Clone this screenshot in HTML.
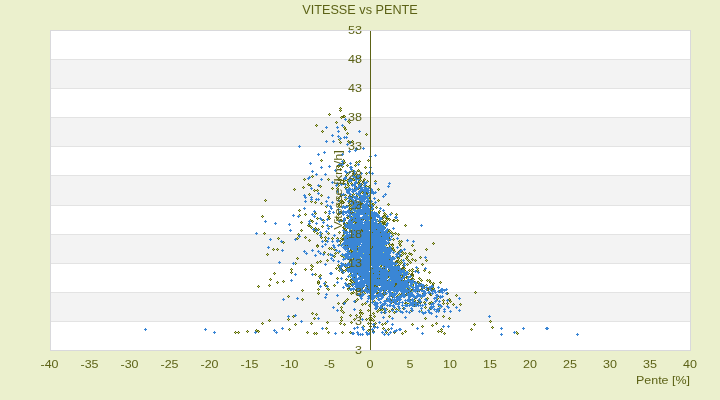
<!DOCTYPE html>
<html><head><meta charset="utf-8"><title>VITESSE vs PENTE</title>
<style>html,body{margin:0;padding:0;background:#ebf0cd;}body{width:720px;height:400px;overflow:hidden;font-family:"Liberation Sans",sans-serif;}</style>
</head><body>
<svg width="720" height="400" viewBox="0 0 720 400" style="display:block;font-family:'Liberation Sans',sans-serif">
<rect width="720" height="400" fill="#ebf0cd"/>
<rect x="50" y="30" width="641" height="321" fill="#d9d9dc" shape-rendering="crispEdges"/>
<rect x="51" y="31" width="639" height="319" fill="#fff" shape-rendering="crispEdges"/>
<rect x="51" y="59" width="639" height="29" fill="#f3f3f3" shape-rendering="crispEdges"/>
<rect x="51" y="117" width="639" height="29" fill="#f3f3f3" shape-rendering="crispEdges"/>
<rect x="51" y="175" width="639" height="30" fill="#f3f3f3" shape-rendering="crispEdges"/>
<rect x="51" y="234" width="639" height="29" fill="#f3f3f3" shape-rendering="crispEdges"/>
<rect x="51" y="292" width="639" height="29" fill="#f3f3f3" shape-rendering="crispEdges"/>
<rect x="51" y="59" width="639" height="1" fill="#e3e3e3" shape-rendering="crispEdges"/>
<rect x="51" y="88" width="639" height="1" fill="#e3e3e3" shape-rendering="crispEdges"/>
<rect x="51" y="117" width="639" height="1" fill="#e3e3e3" shape-rendering="crispEdges"/>
<rect x="51" y="146" width="639" height="1" fill="#e3e3e3" shape-rendering="crispEdges"/>
<rect x="51" y="175" width="639" height="1" fill="#e3e3e3" shape-rendering="crispEdges"/>
<rect x="51" y="205" width="639" height="1" fill="#e3e3e3" shape-rendering="crispEdges"/>
<rect x="51" y="234" width="639" height="1" fill="#e3e3e3" shape-rendering="crispEdges"/>
<rect x="51" y="263" width="639" height="1" fill="#e3e3e3" shape-rendering="crispEdges"/>
<rect x="51" y="292" width="639" height="1" fill="#e3e3e3" shape-rendering="crispEdges"/>
<rect x="51" y="321" width="639" height="1" fill="#e3e3e3" shape-rendering="crispEdges"/>
<path d="M340 107h1M339 108h1M341 108h1M340 109h1M339 110h1M341 110h1M340 111h1M329 113h1M328 114h1M330 114h1M329 115h1M343 115h2M341 116h3M345 116h1M340 117h1M342 117h3M341 118h1M348 120h1M336 121h1M347 121h1M349 121h1M335 122h1M337 122h1M348 122h1M350 122h1M336 123h1M349 123h1M316 124h1M315 125h1M317 125h1M316 126h1M344 126h1M343 127h1M345 127h1M344 128h2M344 129h1M346 129h1M322 130h1M345 130h1M321 131h1M323 131h1M322 132h1M347 132h1M346 133h1M348 133h1M366 133h1M347 134h1M365 134h1M367 134h1M366 135h1M338 139h1M339 140h1M348 140h1M352 140h1M340 141h1M347 141h1M349 141h1M351 141h1M353 141h1M339 142h1M341 142h1M348 142h1M352 142h1M340 143h1M321 159h1M343 159h1M368 159h1M320 160h1M322 160h1M344 160h1M359 160h1M367 160h1M369 160h1M321 161h1M344 161h1M356 161h1M358 161h1M360 161h1M368 161h1M343 162h1M345 162h1M355 162h1M357 162h1M359 162h1M341 163h1M343 163h2M356 163h1M347 164h1M355 164h1M337 165h2M346 165h1M348 165h1M354 165h1M356 165h1M337 166h1M339 166h1M343 166h1M347 166h1M355 166h1M365 166h1M338 167h1M342 167h1M364 167h1M366 167h1M340 168h1M365 168h1M339 169h1M341 169h1M358 169h1M340 170h1M353 170h1M357 170h1M359 170h1M352 171h1M358 171h1M353 172h1M366 172h1M347 173h1M352 173h1M365 173h1M367 173h1M346 174h1M348 174h1M353 174h1M355 174h1M366 174h1M312 175h1M345 175h1M347 175h1M352 175h1M354 175h1M311 176h1M313 176h1M346 176h1M360 176h1M312 177h1M359 177h1M361 177h1M304 178h1M328 178h1M338 178h1M353 178h1M360 178h1M364 178h1M303 179h1M305 179h1M327 179h1M329 179h1M337 179h1M339 179h2M343 179h1M347 179h2M352 179h1M354 179h1M360 179h1M363 179h1M365 179h1M304 180h1M328 180h1M338 180h2M341 180h3M345 180h2M353 180h2M359 180h1M361 180h1M363 180h2M367 180h1M375 180h1M340 181h1M343 181h2M347 181h1M358 181h1M360 181h1M362 181h2M368 181h1M374 181h1M376 181h1M340 182h1M343 182h1M347 182h1M351 182h1M358 182h2M362 182h1M308 183h1M339 183h1M342 183h1M344 183h1M347 183h2M350 183h1M352 183h1M357 183h1M359 183h1M361 183h1M363 183h1M307 184h1M309 184h2M338 184h1M343 184h1M348 184h1M351 184h1M358 184h1M362 184h1M308 185h2M311 185h1M320 185h1M339 185h1M347 185h1M349 185h1M361 185h1M366 185h1M369 185h1M303 186h1M310 186h1M319 186h1M321 186h1M338 186h1M345 186h1M348 186h1M356 186h1M360 186h1M365 186h1M367 186h2M370 186h1M302 187h1M304 187h1M320 187h1M332 187h1M337 187h1M344 187h1M346 187h2M369 187h1M294 188h1M303 188h1M331 188h1M333 188h1M336 188h1M338 188h1M345 188h1M354 188h1M359 188h1M378 188h1M293 189h1M295 189h1M314 189h1M317 189h1M332 189h1M337 189h1M358 189h1M377 189h1M379 189h1M294 190h1M313 190h1M315 190h2M318 190h1M378 190h1M314 191h1M317 191h1M362 191h1M361 192h1M363 192h1M366 192h1M309 193h1M353 193h1M360 193h1M362 193h1M366 193h2M370 193h1M308 194h1M310 194h1M321 194h1M345 194h1M352 194h1M354 194h1M367 194h1M309 195h1M320 195h1M322 195h1M340 195h1M342 195h1M344 195h1M346 195h1M349 195h1M352 195h1M356 195h1M321 196h1M341 196h1M348 196h1M350 196h2M357 196h1M338 197h1M352 197h1M359 197h1M369 197h1M337 198h1M339 198h1M347 198h1M369 198h2M265 199h1M341 199h1M344 199h1M346 199h1M350 199h1M370 199h1M378 199h1M264 200h1M266 200h1M340 200h1M342 200h1M345 200h1M349 200h1M351 200h1M355 200h1M370 200h1M377 200h1M379 200h1M265 201h1M310 201h1M312 201h1M315 201h1M339 201h1M341 201h3M350 201h1M369 201h1M378 201h1M311 202h1M314 202h1M316 202h1M321 202h1M340 202h2M343 202h2M349 202h1M358 202h1M315 203h1M320 203h1M322 203h1M338 203h1M342 203h2M348 203h1M361 203h2M372 203h2M388 203h1M321 204h1M337 204h1M339 204h1M349 204h2M358 204h1M360 204h2M372 204h1M374 204h1M387 204h1M389 204h1M338 205h2M346 205h1M348 205h2M351 205h1M357 205h1M368 205h1M373 205h1M388 205h1M325 206h1M338 206h1M340 206h1M350 206h1M360 206h1M369 206h2M376 206h1M326 207h1M339 207h1M349 207h1M371 207h1M375 207h1M377 207h1M350 208h1M355 208h1M376 208h1M299 209h1M349 209h1M351 209h1M373 209h1M298 210h1M300 210h1M350 210h1M372 210h1M379 210h1M299 211h1M325 211h1M340 211h1M378 211h1M380 211h1M315 212h1M324 212h1M326 212h1M341 212h1M350 212h1M352 212h2M378 212h2M384 212h1M391 212h1M305 213h1M314 213h1M316 213h1M325 213h1M338 213h1M340 213h1M351 213h1M365 213h1M379 213h1M383 213h1M385 213h1M392 213h1M396 213h1M299 214h1M304 214h1M306 214h1M315 214h1M337 214h1M339 214h1M384 214h1M386 214h1M395 214h1M397 214h1M262 215h1M300 215h1M305 215h1M328 215h1M338 215h1M383 215h3M396 215h1M261 216h1M263 216h1M327 216h1M329 216h1M348 216h1M351 216h1M382 216h2M385 216h1M262 217h1M317 217h1M328 217h2M337 217h1M346 217h2M370 217h2M382 217h1M384 217h1M386 217h1M316 218h1M318 218h1M328 218h1M330 218h1M336 218h1M338 218h1M347 218h2M355 218h1M371 218h1M383 218h1M385 218h5M310 219h1M317 219h1M323 219h1M329 219h1M337 219h1M340 219h2M352 219h1M361 219h1M363 219h1M377 219h1M382 219h1M386 219h1M388 219h1M390 219h1M393 219h2M397 219h1M311 220h2M322 220h1M324 220h1M340 220h1M342 220h1M345 220h1M351 220h1M365 220h1M383 220h1M385 220h1M387 220h1M389 220h1M392 220h2M395 220h2M398 220h1M301 221h1M311 221h1M313 221h1M341 221h1M354 221h1M378 221h1M380 221h3M384 221h1M386 221h1M393 221h2M397 221h1M300 222h1M302 222h1M312 222h1M344 222h1M346 222h1M353 222h1M355 222h2M379 222h1M382 222h4M301 223h1M343 223h2M347 223h1M355 223h1M378 223h1M382 223h3M308 224h1M343 224h1M383 224h3M405 224h1M307 225h1M309 225h2M322 225h1M344 225h1M404 225h1M406 225h1M308 226h2M311 226h1M321 226h1M323 226h1M329 226h1M343 226h1M405 226h1M310 227h1M312 227h1M315 227h1M322 227h1M342 227h2M385 227h1M311 228h1M314 228h1M316 228h1M318 228h1M343 228h3M347 228h1M301 229h1M315 229h1M317 229h1M319 229h1M344 229h1M346 229h1M361 229h1M376 229h1M389 229h1M300 230h1M302 230h1M314 230h1M318 230h1M345 230h2M354 230h1M361 230h2M388 230h1M390 230h1M301 231h1M313 231h1M315 231h1M339 231h1M356 231h1M362 231h1M388 231h2M391 231h1M264 232h1M314 232h1M317 232h1M328 232h1M338 232h1M340 232h1M343 232h1M372 232h1M380 232h1M387 232h1M390 232h1M392 232h1M395 232h1M263 233h1M265 233h1M298 233h1M316 233h1M318 233h1M322 233h1M327 233h1M329 233h1M339 233h1M391 233h1M393 233h2M396 233h1M398 233h1M264 234h1M297 234h1M299 234h1M317 234h1M321 234h1M328 234h1M343 234h1M353 234h1M392 234h1M395 234h1M397 234h1M399 234h1M298 235h1M342 235h2M393 235h1M398 235h1M305 236h1M321 236h1M325 236h1M342 236h1M381 236h1M278 237h1M297 237h1M304 237h1M306 237h1M320 237h1M322 237h1M324 237h1M326 237h1M332 237h1M337 237h1M341 237h1M389 237h1M277 238h1M279 238h1M296 238h1M298 238h1M305 238h1M321 238h1M325 238h1M331 238h1M333 238h1M336 238h1M338 238h1M340 238h1M342 238h2M347 238h1M389 238h1M393 238h1M278 239h1M297 239h1M309 239h1M325 239h1M332 239h1M341 239h3M392 239h1M394 239h1M308 240h1M310 240h1M324 240h1M326 240h1M340 240h1M342 240h1M389 240h1M393 240h1M399 240h1M401 240h1M283 241h1M309 241h1M325 241h1M339 241h1M341 241h1M398 241h1M400 241h1M402 241h1M282 242h1M284 242h1M340 242h1M399 242h1M401 242h1M433 242h1M283 243h1M340 243h1M389 243h1M392 243h1M398 243h1M400 243h1M432 243h1M434 243h1M317 244h1M339 244h1M388 244h1M390 244h4M399 244h2M412 244h1M433 244h1M316 245h3M345 245h1M347 245h1M386 245h1M389 245h1M391 245h1M393 245h1M399 245h1M401 245h1M411 245h1M413 245h1M316 246h1M318 246h1M357 246h1M372 246h1M389 246h1M392 246h1M400 246h1M412 246h1M317 247h1M329 247h1M331 247h1M372 247h1M387 247h1M393 247h1M273 248h1M277 248h1M328 248h1M330 248h1M332 248h1M348 248h1M357 248h1M371 248h1M391 248h3M426 248h1M272 249h1M274 249h1M276 249h1M278 249h1M329 249h1M331 249h1M333 249h1M335 249h1M350 249h1M357 249h1M370 249h1M392 249h1M394 249h1M400 249h1M414 249h1M425 249h1M427 249h1M273 250h1M277 250h1M334 250h1M350 250h2M393 250h2M399 250h1M413 250h1M415 250h1M426 250h1M324 251h1M349 251h1M351 251h2M395 251h1M398 251h1M402 251h1M414 251h1M323 252h1M325 252h1M335 252h1M337 252h1M351 252h1M397 252h1M401 252h1M403 252h1M405 252h1M409 252h1M267 253h1M324 253h1M328 253h1M334 253h1M336 253h1M338 253h1M398 253h1M402 253h1M404 253h1M406 253h1M408 253h1M410 253h2M266 254h1M268 254h1M327 254h1M335 254h1M369 254h1M401 254h1M403 254h1M405 254h1M409 254h2M412 254h1M267 255h1M328 255h1M334 255h1M340 255h1M400 255h1M402 255h1M407 255h1M411 255h1M333 256h1M335 256h1M341 256h2M392 256h1M401 256h1M406 256h1M408 256h1M420 256h1M297 257h1M334 257h1M343 257h1M397 257h2M406 257h2M419 257h1M421 257h1M296 258h1M298 258h1M353 258h1M397 258h1M399 258h1M405 258h1M407 258h1M412 258h1M420 258h1M297 259h1M327 259h1M348 259h1M350 259h1M353 259h1M389 259h1M398 259h1M401 259h1M406 259h1M408 259h1M411 259h1M413 259h1M415 259h1M426 259h1M320 260h1M326 260h1M328 260h1M350 260h1M396 260h3M400 260h1M407 260h1M409 260h1M412 260h1M414 260h1M416 260h1M425 260h1M427 260h1M317 261h1M319 261h1M321 261h1M327 261h1M349 261h1M395 261h3M399 261h1M401 261h1M408 261h1M410 261h1M415 261h1M426 261h1M295 262h1M316 262h1M318 262h1M320 262h1M349 262h1M395 262h1M397 262h2M400 262h1M402 262h1M409 262h1M411 262h1M296 263h1M317 263h1M345 263h1M399 263h1M401 263h1M407 263h1M410 263h1M422 263h1M295 264h1M311 264h1M338 264h1M398 264h1M400 264h1M403 264h1M406 264h1M408 264h1M421 264h1M423 264h1M310 265h1M312 265h1M337 265h1M339 265h1M381 265h1M395 265h1M397 265h1M399 265h1M402 265h1M407 265h1M422 265h1M311 266h1M313 266h1M338 266h1M344 266h1M380 266h2M384 266h1M403 266h1M312 267h1M336 267h1M338 267h1M345 267h1M347 267h3M402 267h3M291 268h1M305 268h1M311 268h1M335 268h1M337 268h1M339 268h1M341 268h1M346 268h1M372 268h1M382 268h1M384 268h1M401 268h3M405 268h1M412 268h1M418 268h1M290 269h1M292 269h1M304 269h1M306 269h1M310 269h1M312 269h1M336 269h1M342 269h1M345 269h1M388 269h1M401 269h1M404 269h1M409 269h1M411 269h1M413 269h1M417 269h1M424 269h1M291 270h1M305 270h1M311 270h1M338 270h1M343 270h2M346 270h1M389 270h1M398 270h1M405 270h1M408 270h1M410 270h1M412 270h1M416 270h1M418 270h1M423 270h1M425 270h1M291 271h1M339 271h1M342 271h1M345 271h1M379 271h1M388 271h1M409 271h1M411 271h1M413 271h1M417 271h1M424 271h1M429 271h1M274 272h1M290 272h1M292 272h1M341 272h1M412 272h1M428 272h1M430 272h1M273 273h1M275 273h1M291 273h1M315 273h1M342 273h1M350 273h1M357 273h1M373 273h1M409 273h1M411 273h2M429 273h1M274 274h1M314 274h1M316 274h1M320 274h1M349 274h1M379 274h1M408 274h1M410 274h4M315 275h1M319 275h1M321 275h1M400 275h1M402 275h1M411 275h3M318 276h1M320 276h1M360 276h1M388 276h1M402 276h1M406 276h2M413 276h1M319 277h1M337 277h1M350 277h1M354 277h1M388 277h1M401 277h1M405 277h2M412 277h1M419 277h1M270 278h1M336 278h1M338 278h1M346 278h1M377 278h1M379 278h1M404 278h1M406 278h1M411 278h3M418 278h1M420 278h1M269 279h1M271 279h1M337 279h1M345 279h1M347 279h1M350 279h2M404 279h1M410 279h2M414 279h1M419 279h1M421 279h1M427 279h1M429 279h1M270 280h1M283 280h1M318 280h1M346 280h1M349 280h2M352 280h1M387 280h1M401 280h1M403 280h1M420 280h1M422 280h1M426 280h1M428 280h1M430 280h1M277 281h1M282 281h1M284 281h1M317 281h1M319 281h1M325 281h1M350 281h2M353 281h1M414 281h1M417 281h2M421 281h1M427 281h1M429 281h2M440 281h1M276 282h1M278 282h1M283 282h1M317 282h3M326 282h1M351 282h2M354 282h1M408 282h1M417 282h1M419 282h1M429 282h1M431 282h1M433 282h1M439 282h1M441 282h1M277 283h1M317 283h1M319 283h1M348 283h3M395 283h2M418 283h1M420 283h1M430 283h1M432 283h1M434 283h1M440 283h1M269 284h1M318 284h1M325 284h1M334 284h1M347 284h1M350 284h1M395 284h2M413 284h1M426 284h1M432 284h2M258 285h1M268 285h1M270 285h1M324 285h1M326 285h1M333 285h1M335 285h1M351 285h1M366 285h1M374 285h2M379 285h1M395 285h1M413 285h1M425 285h1M427 285h1M433 285h1M257 286h1M259 286h1M269 286h1M325 286h1M334 286h1M350 286h1M352 286h1M367 286h1M374 286h1M376 286h2M394 286h1M421 286h1M424 286h1M258 287h1M349 287h1M363 287h1M433 287h1M318 288h1M326 288h1M328 288h1M347 288h3M362 288h1M367 288h1M407 288h1M421 288h1M424 288h1M427 288h2M431 288h2M434 288h1M302 289h1M317 289h1M319 289h1M327 289h1M329 289h1M347 289h1M368 289h1M408 289h1M411 289h2M420 289h1M422 289h1M428 289h1M432 289h2M301 290h1M303 290h1M318 290h1M328 290h1M348 290h1M355 290h1M359 290h1M378 290h1M383 290h1M386 290h1M411 290h1M427 290h2M431 290h1M439 290h1M302 291h1M353 291h1M356 291h1M358 291h1M363 291h1M410 291h1M417 291h1M419 291h1M475 291h1M318 292h1M351 292h2M354 292h1M362 292h1M364 292h1M377 292h2M383 292h1M385 292h1M392 292h1M408 292h1M439 292h1M447 292h1M474 292h1M476 292h1M317 293h1M319 293h1M350 293h1M352 293h2M357 293h1M365 293h1M376 293h2M382 293h1M399 293h1M401 293h1M406 293h1M422 293h1M430 293h1M448 293h1M475 293h1M318 294h1M351 294h1M356 294h1M383 294h1M385 294h1M398 294h1M400 294h1M405 294h1M429 294h2M447 294h1M456 294h1M288 295h1M357 295h1M369 295h1M384 295h1M397 295h1M406 295h1M430 295h2M455 295h1M457 295h1M287 296h1M289 296h1M370 296h1M391 296h1M396 296h1M438 296h1M456 296h1M288 297h1M392 297h1M427 297h1M302 298h1M347 298h1M357 298h1M376 298h1M415 298h1M421 298h1M426 298h1M428 298h1M438 298h1M449 298h1M301 299h1M303 299h1M346 299h1M348 299h1M356 299h1M358 299h1M386 299h1M390 299h1M410 299h1M414 299h1M427 299h1M437 299h1M443 299h1M448 299h1M450 299h1M302 300h1M345 300h1M347 300h1M355 300h1M357 300h1M374 300h1M391 300h1M415 300h1M417 300h1M442 300h1M444 300h1M449 300h2M344 301h1M346 301h1M356 301h1M373 301h1M397 301h1M414 301h1M418 301h1M424 301h1M431 301h1M443 301h1M449 301h1M451 301h1M338 302h1M343 302h1M345 302h1M355 302h1M365 302h1M393 302h1M405 302h2M417 302h1M419 302h1M421 302h1M423 302h1M425 302h1M429 302h2M432 302h1M443 302h1M447 302h1M450 302h1M337 303h1M339 303h1M342 303h1M362 303h1M364 303h1M366 303h1M391 303h1M404 303h2M407 303h2M420 303h1M424 303h1M428 303h1M430 303h1M442 303h1M444 303h1M446 303h1M448 303h1M453 303h1M460 303h1M338 304h1M343 304h1M361 304h1M363 304h1M365 304h1M369 304h1M414 304h1M417 304h1M429 304h1M443 304h1M447 304h1M452 304h1M454 304h1M459 304h1M461 304h1M362 305h1M368 305h1M370 305h1M453 305h1M460 305h1M341 306h1M369 306h1M382 306h1M414 306h1M425 306h1M438 306h1M340 307h1M342 307h1M403 307h1M424 307h1M426 307h1M341 308h1M379 308h1M382 308h1M386 308h1M392 308h1M396 308h1M402 308h1M425 308h1M429 308h1M341 309h1M360 309h1M368 309h1M378 309h1M380 309h2M383 309h1M387 309h1M391 309h1M393 309h1M395 309h1M397 309h1M403 309h1M430 309h1M340 310h1M342 310h1M359 310h1M361 310h1M367 310h1M369 310h1M377 310h1M379 310h2M382 310h1M389 310h1M398 310h1M410 310h1M421 310h1M439 310h1M341 311h1M343 311h1M360 311h1M368 311h1M376 311h1M378 311h1M384 311h1M388 311h1M390 311h1M394 311h1M411 311h1M312 312h1M342 312h1M344 312h1M359 312h4M373 312h1M377 312h1M383 312h1M389 312h1M393 312h1M395 312h1M311 313h1M313 313h1M316 313h1M343 313h1M359 313h1M361 313h1M363 313h1M372 313h1M374 313h1M384 313h1M394 313h1M312 314h1M315 314h1M317 314h1M350 314h1M356 314h1M360 314h1M362 314h1M370 314h1M373 314h1M293 315h1M316 315h1M349 315h1M351 315h1M355 315h1M357 315h1M360 315h1M369 315h1M371 315h1M374 315h1M389 315h1M443 315h1M292 316h1M294 316h1M341 316h1M350 316h1M356 316h1M359 316h1M361 316h1M370 316h1M373 316h1M375 316h1M388 316h1M390 316h1M442 316h1M444 316h1M293 317h1M314 317h1M340 317h1M342 317h1M360 317h1M369 317h1M371 317h1M374 317h1M389 317h1M425 317h1M443 317h1M449 317h1M288 318h1M313 318h1M315 318h1M341 318h1M354 318h1M366 318h1M368 318h1M370 318h1M372 318h1M424 318h1M426 318h1M448 318h1M450 318h1M269 319h1M287 319h1M289 319h1M314 319h1M341 319h1M353 319h1M355 319h1M365 319h1M367 319h1M369 319h3M373 319h1M425 319h1M449 319h1M268 320h1M270 320h1M288 320h1M340 320h1M342 320h1M354 320h1M366 320h1M369 320h1M371 320h2M374 320h1M490 320h1M269 321h1M327 321h1M341 321h1M351 321h1M370 321h1M373 321h1M489 321h1M491 321h1M262 322h1M311 322h1M326 322h1M328 322h1M340 322h1M350 322h1M352 322h1M368 322h1M370 322h1M375 322h1M385 322h1M436 322h1M490 322h1M261 323h1M263 323h1M295 323h1M310 323h1M312 323h1M327 323h1M339 323h1M341 323h1M344 323h1M351 323h1M367 323h1M369 323h1M371 323h1M374 323h1M376 323h1M382 323h1M384 323h1M386 323h1M412 323h1M435 323h1M437 323h1M474 323h1M262 324h1M294 324h1M296 324h1M311 324h1M340 324h1M343 324h1M345 324h1M368 324h1M370 324h1M375 324h1M381 324h1M383 324h1M385 324h1M411 324h1M413 324h1M432 324h1M436 324h1M473 324h1M475 324h1M295 325h1M344 325h1M363 325h1M370 325h1M374 325h1M382 325h1M412 325h1M422 325h1M431 325h1M433 325h1M474 325h1M364 326h1M369 326h1M371 326h1M373 326h1M375 326h1M421 326h1M423 326h1M432 326h1M492 326h1M326 327h1M370 327h1M383 327h1M422 327h1M491 327h1M493 327h1M289 328h1M325 328h1M327 328h1M370 328h1M382 328h1M384 328h1M388 328h1M441 328h1M471 328h1M492 328h1M256 329h1M288 329h1M290 329h1M326 329h1M368 329h2M383 329h1M387 329h1M389 329h1M440 329h1M442 329h1M470 329h1M472 329h1M247 330h1M255 330h1M257 330h2M289 330h1M367 330h1M369 330h2M373 330h1M388 330h1M405 330h1M438 330h1M441 330h1M471 330h1M235 331h1M238 331h1M246 331h1M248 331h1M256 331h2M259 331h1M307 331h1M328 331h1M342 331h1M350 331h1M368 331h1M372 331h1M374 331h1M386 331h1M404 331h1M406 331h1M437 331h1M439 331h2M442 331h1M516 331h1M234 332h1M236 332h2M239 332h1M247 332h1M258 332h1M306 332h1M308 332h1M314 332h1M316 332h1M327 332h1M329 332h1M341 332h1M343 332h1M349 332h1M351 332h1M385 332h1M387 332h1M393 332h1M395 332h1M402 332h1M405 332h1M438 332h1M441 332h1M444 332h1M517 332h1M235 333h1M238 333h1M307 333h1M313 333h1M315 333h1M317 333h1M328 333h1M342 333h1M350 333h1M386 333h1M394 333h1M401 333h1M403 333h1M443 333h1M445 333h1M516 333h1M518 333h1M314 334h1M316 334h1M402 334h1M444 334h1M517 334h1" stroke="#5c6410" stroke-width="1" fill="none" transform="translate(0,0.5)" shape-rendering="crispEdges"/>
<path d="M340 108h1M340 110h1M329 114h1M344 116h1M341 117h1M348 121h1M336 122h1M349 122h1M316 125h1M344 127h1M345 129h1M322 131h1M347 133h1M366 134h1M339 139h1M348 141h1M352 141h1M340 142h1M321 160h1M343 160h1M368 160h1M359 161h1M344 162h1M356 162h1M347 165h1M355 165h1M338 166h1M342 166h1M365 167h1M340 169h1M352 170h1M358 170h1M348 173h1M366 173h1M346 175h1M355 175h1M312 176h1M360 177h1M304 179h1M328 179h1M338 179h1M353 179h1M364 179h1M340 180h1M344 180h1M347 180h1M355 180h1M360 180h1M359 181h1M367 181h1M375 181h1M348 182h1M340 183h1M343 183h1M351 183h1M358 183h1M308 184h1M347 184h1M310 185h1M338 185h1M348 185h1M320 186h1M366 186h1M369 186h1M303 187h1M345 187h1M348 187h1M332 188h1M337 188h1M294 189h1M378 189h1M314 190h1M317 190h1M362 192h1M369 193h1M309 194h1M353 194h1M321 195h1M345 195h1M357 195h1M366 195h1M368 197h1M338 198h1M346 198h1M345 199h1M369 199h1M265 200h1M341 200h1M350 200h1M378 200h1M311 201h1M340 201h1M315 202h1M342 202h1M321 203h1M349 203h1M371 203h1M338 204h1M373 204h1M388 204h1M350 205h1M326 206h1M339 206h1M349 206h1M376 207h1M350 209h1M356 209h1M299 210h1M352 210h1M371 210h1M379 211h1M325 212h1M355 212h1M315 213h1M378 213h1M384 213h1M391 213h1M305 214h1M338 214h1M385 214h1M396 214h1M299 215h1M368 215h1M262 216h1M328 216h1M352 216h1M384 216h1M348 217h1M383 217h1M385 217h1M317 218h1M329 218h1M337 218h1M387 219h1M389 219h1M310 220h1M323 220h1M341 220h1M369 220h1M377 220h1M394 220h1M397 220h1M312 221h1M383 221h1M385 221h1M301 222h1M354 222h1M381 222h1M346 223h1M385 223h1M382 224h1M308 225h1M405 225h1M310 226h1M322 226h1M328 226h1M311 227h1M344 227h1M315 228h1M318 229h1M345 229h1M351 229h1M301 230h1M389 230h1M314 231h1M339 232h1M388 232h1M391 232h1M264 233h1M317 233h1M321 233h1M328 233h1M392 233h1M395 233h1M298 234h1M398 234h1M344 235h1M392 235h1M343 236h1M305 237h1M321 237h1M325 237h1M278 238h1M297 238h1M332 238h1M337 238h1M341 238h1M393 239h1M309 240h1M325 240h1M340 241h1M399 241h1M401 241h1M283 242h1M399 243h1M433 243h1M340 244h1M389 244h1M343 245h1M385 245h1M392 245h1M400 245h1M412 245h1M317 246h1M358 246h1M392 247h1M329 248h1M331 248h1M273 249h1M277 249h1M334 249h1M393 249h1M426 249h1M352 250h1M414 250h1M350 251h1M357 251h1M394 251h1M324 252h1M338 252h1M383 252h1M402 252h1M335 253h1M363 253h1M403 253h1M405 253h1M409 253h1M267 254h1M328 254h1M411 254h1M341 255h1M401 255h1M334 256h1M343 256h1M407 256h1M344 257h1M360 257h1M420 257h1M297 258h1M352 258h1M398 258h1M406 258h1M412 259h1M327 260h1M401 260h1M408 260h1M415 260h1M426 260h1M320 261h1M398 261h1M317 262h1M350 262h1M399 262h1M401 262h1M410 262h1M295 263h1M400 263h1M407 264h1M422 264h1M311 265h1M338 265h1M380 265h1M396 265h1M312 266h1M346 267h1M381 267h1M336 268h1M404 268h1M417 268h1M291 269h1M305 269h1M311 269h1M412 269h1M339 270h1M345 270h1M388 270h1M409 270h1M417 270h1M424 270h1M405 271h1M412 271h1M291 272h1M429 272h1M274 273h1M402 273h1M408 273h1M315 274h1M350 274h1M320 275h1M349 275h1M319 276h1M350 276h1M401 276h1M412 276h1M389 277h1M337 278h1M407 278h1M419 278h1M270 279h1M346 279h1M413 279h1M351 280h1M390 280h1M421 280h1M427 280h1M429 280h1M283 281h1M318 281h1M277 282h1M325 282h1M353 282h1M418 282h1M430 282h1M440 282h1M318 283h1M351 283h1M413 283h1M433 283h1M349 284h1M269 285h1M325 285h1M334 285h1M412 285h1M426 285h1M258 286h1M409 286h1M410 287h1M327 288h1M406 288h1M433 288h1M318 289h1M328 289h1M348 289h1M410 289h1M302 290h1M377 290h1M412 291h1M353 292h1M393 292h1M475 292h1M318 293h1M351 293h1M364 293h1M399 294h1M431 294h1M398 295h1M456 295h1M288 296h1M376 297h1M421 297h1M427 298h1M437 298h1M302 299h1M347 299h1M357 299h1M449 299h1M414 300h1M443 300h1M345 301h1M374 301h1M450 301h1M424 302h1M431 302h1M338 303h1M365 303h1M406 303h1M409 303h1M429 303h1M443 303h1M447 303h1M362 304h1M453 304h1M460 304h1M369 305h1M439 306h1M341 307h1M425 307h1M440 307h1M382 309h1M386 309h1M396 309h1M398 309h1M429 309h1M341 310h1M360 310h1M368 310h1M378 310h1M381 310h1M399 310h1M377 311h1M389 311h1M421 311h1M343 312h1M394 312h1M312 313h1M360 313h1M362 313h1M373 313h1M316 314h1M350 315h1M356 315h1M370 315h1M293 316h1M360 316h1M374 316h1M389 316h1M443 316h1M341 317h1M314 318h1M369 318h1M371 318h1M425 318h1M449 318h1M288 319h1M354 319h1M366 319h1M269 320h1M341 320h1M370 320h1M373 320h1M490 321h1M327 322h1M351 322h1M262 323h1M311 323h1M340 323h1M368 323h1M370 323h1M375 323h1M385 323h1M436 323h1M295 324h1M344 324h1M382 324h1M412 324h1M474 324h1M432 325h1M363 326h1M370 326h1M422 326h1M492 327h1M326 328h1M383 328h1M289 329h1M370 329h1M388 329h1M441 329h1M471 329h1M256 330h1M368 330h1M247 331h1M258 331h1M405 331h1M438 331h1M441 331h1M235 332h1M238 332h1M307 332h1M328 332h1M342 332h1M350 332h1M386 332h1M516 332h1M314 333h1M316 333h1M402 333h1M444 333h1M517 333h1" stroke="#c6de70" stroke-width="1" fill="none" transform="translate(0,0.5)" shape-rendering="crispEdges"/>
<path d="M345 118h1M344 119h3M345 120h1M342 124h1M341 125h3M326 126h1M337 126h1M342 126h1M325 127h3M336 127h3M326 128h1M337 128h1M338 130h1M359 130h1M337 131h3M358 131h3M338 132h1M359 132h1M332 134h1M331 135h3M338 135h1M332 136h1M337 136h3M344 136h1M346 136h1M338 137h1M340 137h1M343 137h5M339 138h3M344 138h1M346 138h1M340 139h1M326 140h1M333 140h1M325 141h3M332 141h3M350 141h1M326 142h1M333 142h1M349 142h3M347 143h1M350 143h1M346 144h3M299 145h1M347 145h1M298 146h3M299 147h1M356 147h1M363 147h1M355 148h3M362 148h3M355 149h2M363 149h1M349 150h1M354 150h3M324 151h1M348 151h3M355 151h1M323 152h3M349 152h1M318 153h1M324 153h1M342 153h1M317 154h3M341 154h3M375 154h1M318 155h1M342 155h1M370 155h1M374 155h3M369 156h3M375 156h1M370 157h1M342 160h1M341 161h3M310 162h1M342 162h1M350 162h1M309 163h3M339 163h1M342 163h1M349 163h3M358 163h1M310 164h1M338 164h6M350 164h1M357 164h3M329 165h1M339 165h4M358 165h1M321 166h1M328 166h3M341 166h1M350 166h2M370 166h1M320 167h3M329 167h1M349 167h4M369 167h3M321 168h1M350 168h2M370 168h1M335 169h1M350 169h3M312 170h1M334 170h3M345 170h1M351 170h1M354 170h1M311 171h3M335 171h1M344 171h3M349 171h1M353 171h3M369 171h1M312 172h1M345 172h6M354 172h1M361 172h1M368 172h3M372 172h1M316 173h1M325 173h1M346 173h1M349 173h1M353 173h3M360 173h3M369 173h1M371 173h3M315 174h3M324 174h3M354 174h1M357 174h1M359 174h1M361 174h1M372 174h1M316 175h1M325 175h1M353 175h1M356 175h5M309 176h1M345 176h1M352 176h8M308 177h3M344 177h3M350 177h1M353 177h6M307 178h3M321 178h1M343 178h4M349 178h3M355 178h2M358 178h1M308 179h1M320 179h3M344 179h2M349 179h3M355 179h5M321 180h1M348 180h5M356 180h1M358 180h1M332 181h1M348 181h4M355 181h2M364 181h1M366 181h1M331 182h3M337 182h1M349 182h1M354 182h4M363 182h5M375 182h1M389 182h1M332 183h1M336 183h3M341 183h1M345 183h1M354 183h3M360 183h1M364 183h3M374 183h3M388 183h3M318 184h1M336 184h2M340 184h3M344 184h3M352 184h4M359 184h3M364 184h2M375 184h1M389 184h1M317 185h3M335 185h3M341 185h1M345 185h1M351 185h5M358 185h3M363 185h3M388 185h1M318 186h1M336 186h1M352 186h1M354 186h2M358 186h2M361 186h1M364 186h1M387 186h3M311 187h1M349 187h1M354 187h13M368 187h1M388 187h1M310 188h3M346 188h1M348 188h3M352 188h1M355 188h4M360 188h3M364 188h6M371 188h1M311 189h1M345 189h13M360 189h9M370 189h3M337 190h1M346 190h5M352 190h5M359 190h14M336 191h3M346 191h4M351 191h5M358 191h4M363 191h6M370 191h4M375 191h1M318 192h1M337 192h1M346 192h4M352 192h2M356 192h1M358 192h3M364 192h2M367 192h10M317 193h3M341 193h1M343 193h1M347 193h4M355 193h5M363 193h3M368 193h1M371 193h5M385 193h1M304 194h1M318 194h1M340 194h5M349 194h3M356 194h5M363 194h4M369 194h1M373 194h1M384 194h3M303 195h3M341 195h1M343 195h1M350 195h1M353 195h1M358 195h8M367 195h4M383 195h1M385 195h1M304 196h2M311 196h1M328 196h1M345 196h1M349 196h1M352 196h5M359 196h11M382 196h3M304 197h3M310 197h3M327 197h3M344 197h3M348 197h4M353 197h5M360 197h8M374 197h1M383 197h1M305 198h1M311 198h1M316 198h1M318 198h1M328 198h1M345 198h1M348 198h5M354 198h15M373 198h3M310 199h3M315 199h5M338 199h1M349 199h1M351 199h3M355 199h11M367 199h2M374 199h1M305 200h1M311 200h1M316 200h1M318 200h1M326 200h1M337 200h3M348 200h1M352 200h3M356 200h1M359 200h6M366 200h4M371 200h1M304 201h3M325 201h3M332 201h1M338 201h1M347 201h3M351 201h6M360 201h9M370 201h3M375 201h1M305 202h1M326 202h1M331 202h3M348 202h1M351 202h7M359 202h4M364 202h1M366 202h6M374 202h3M332 203h1M350 203h11M363 203h1M365 203h3M369 203h2M375 203h1M327 204h1M351 204h1M353 204h5M359 204h1M362 204h10M326 205h3M330 205h1M343 205h1M347 205h1M353 205h4M358 205h10M369 205h4M327 206h1M329 206h3M342 206h7M352 206h8M362 206h7M371 206h3M304 207h1M330 207h2M341 207h7M351 207h18M370 207h1M372 207h1M380 207h1M303 208h3M330 208h3M338 208h1M342 208h1M344 208h2M351 208h4M356 208h5M362 208h12M379 208h3M304 209h1M331 209h1M337 209h3M348 209h1M352 209h4M357 209h16M380 209h1M383 209h1M314 210h1M329 210h1M338 210h1M343 210h1M347 210h3M351 210h1M353 210h18M382 210h3M313 211h3M328 211h3M333 211h1M339 211h1M342 211h11M354 211h19M374 211h1M383 211h1M314 212h1M329 212h1M332 212h3M338 212h3M342 212h8M351 212h1M354 212h1M356 212h21M312 213h1M328 213h3M333 213h1M339 213h1M341 213h3M345 213h2M348 213h3M352 213h13M366 213h12M390 213h1M293 214h1M311 214h3M329 214h1M342 214h3M347 214h1M349 214h30M389 214h3M292 215h3M298 215h1M312 215h1M314 215h1M343 215h1M346 215h5M352 215h8M363 215h5M369 215h11M387 215h1M390 215h1M293 216h1M297 216h3M313 216h3M347 216h1M349 216h2M353 216h7M362 216h18M386 216h3M395 216h2M298 217h1M314 217h1M320 217h1M344 217h1M349 217h21M372 217h4M377 217h5M387 217h1M394 217h4M319 218h3M327 218h1M343 218h3M350 218h5M356 218h15M372 218h4M379 218h4M395 218h2M320 219h3M326 219h3M343 219h3M349 219h3M353 219h8M362 219h1M364 219h13M379 219h3M265 220h1M309 220h1M321 220h1M327 220h1M339 220h1M343 220h2M348 220h3M352 220h12M366 220h3M370 220h7M378 220h3M264 221h3M308 221h3M323 221h1M338 221h3M342 221h3M348 221h6M355 221h8M364 221h10M375 221h3M379 221h1M265 222h1M275 222h1M309 222h1M316 222h1M322 222h3M339 222h1M343 222h1M347 222h6M357 222h20M380 222h1M387 222h1M274 223h3M289 223h1M308 223h3M315 223h3M323 223h1M345 223h1M348 223h5M354 223h1M356 223h7M364 223h14M379 223h3M386 223h3M275 224h1M288 224h3M309 224h1M316 224h1M327 224h1M344 224h38M386 224h2M421 224h1M289 225h1M326 225h3M331 225h1M345 225h39M385 225h3M420 225h3M327 226h1M330 226h3M344 226h41M386 226h1M421 226h1M328 227h1M331 227h1M345 227h40M393 227h1M313 228h1M327 228h3M348 228h38M387 228h1M392 228h3M290 229h1M312 229h3M316 229h1M328 229h1M343 229h1M349 229h2M352 229h9M362 229h14M377 229h8M386 229h3M393 229h1M289 230h3M313 230h1M315 230h3M326 230h1M342 230h3M349 230h5M355 230h6M363 230h6M370 230h14M385 230h3M290 231h1M316 231h1M320 231h1M325 231h3M343 231h5M349 231h7M357 231h5M363 231h25M256 232h1M319 232h3M326 232h1M344 232h28M373 232h7M381 232h6M389 232h1M255 233h3M320 233h1M343 233h5M349 233h1M351 233h40M256 234h1M320 234h1M334 234h1M344 234h1M346 234h7M354 234h36M299 235h1M319 235h3M333 235h3M345 235h45M391 235h1M298 236h3M320 236h1M334 236h1M344 236h37M382 236h11M299 237h1M328 237h1M343 237h46M391 237h1M397 237h1M270 238h1M295 238h1M327 238h3M344 238h3M348 238h41M390 238h1M396 238h3M269 239h3M294 239h3M328 239h1M337 239h2M344 239h48M397 239h1M407 239h1M270 240h1M281 240h1M295 240h1M322 240h1M327 240h1M332 240h1M336 240h4M343 240h43M387 240h2M390 240h1M406 240h3M413 240h1M280 241h3M321 241h3M326 241h3M331 241h3M336 241h3M344 241h43M388 241h1M407 241h1M412 241h3M281 242h1M322 242h1M327 242h1M332 242h1M337 242h1M343 242h47M413 242h1M325 243h1M342 243h19M362 243h27M324 244h3M333 244h1M338 244h1M341 244h46M322 245h1M325 245h1M332 245h3M337 245h6M344 245h1M346 245h1M348 245h12M361 245h24M268 246h1M321 246h3M333 246h2M338 246h1M341 246h1M343 246h14M359 246h13M373 246h13M390 246h1M397 246h1M267 247h3M322 247h1M333 247h3M342 247h30M373 247h14M388 247h4M396 247h3M268 248h1M334 248h1M343 248h5M350 248h7M358 248h13M372 248h19M397 248h1M404 248h1M282 249h1M312 249h1M336 249h1M344 249h5M351 249h6M358 249h12M371 249h21M401 249h1M403 249h3M281 250h3M304 250h1M311 250h3M318 250h1M335 250h3M339 250h1M345 250h1M347 250h3M353 250h40M400 250h3M404 250h1M282 251h1M303 251h3M312 251h1M317 251h3M336 251h1M338 251h3M346 251h3M353 251h4M358 251h34M393 251h1M399 251h3M304 252h1M306 252h1M318 252h1M320 252h1M339 252h1M347 252h4M352 252h31M384 252h7M392 252h3M398 252h3M305 253h3M319 253h3M323 253h1M330 253h1M342 253h1M345 253h18M364 253h27M393 253h1M396 253h2M399 253h1M306 254h1M315 254h1M320 254h1M322 254h3M329 254h4M341 254h28M370 254h20M395 254h6M314 255h3M323 255h1M330 255h4M342 255h7M350 255h41M396 255h2M399 255h1M315 256h1M332 256h1M344 256h47M393 256h1M395 256h6M425 256h1M331 257h1M345 257h15M361 257h34M396 257h1M399 257h1M424 257h3M330 258h3M343 258h9M354 258h7M362 258h34M425 258h1M331 259h1M333 259h1M342 259h4M347 259h1M349 259h1M352 259h1M354 259h35M390 259h5M403 259h1M332 260h3M338 260h1M343 260h1M351 260h42M402 260h3M279 261h1M333 261h1M337 261h3M350 261h43M403 261h1M278 262h3M293 262h1M338 262h1M341 262h1M348 262h1M351 262h44M396 262h1M404 262h1M279 263h1M292 263h3M325 263h1M340 263h4M347 263h51M403 263h3M293 264h1M324 264h3M341 264h56M404 264h1M325 265h1M340 265h40M382 265h11M394 265h1M398 265h1M403 265h3M339 266h4M345 266h3M349 266h22M372 266h7M383 266h1M385 266h15M404 266h1M416 266h1M339 267h3M350 267h31M382 267h18M415 267h3M425 267h1M340 268h1M347 268h25M373 268h9M383 268h1M385 268h2M388 268h13M416 268h1M424 268h3M339 269h3M346 269h41M389 269h12M402 269h2M425 269h1M340 270h3M347 270h41M390 270h8M399 270h6M415 270h1M341 271h1M343 271h1M347 271h22M370 271h9M380 271h8M389 271h16M406 271h2M414 271h3M418 271h1M330 272h2M342 272h3M348 272h1M350 272h59M415 272h1M417 272h3M295 273h1M312 273h1M329 273h4M343 273h1M351 273h1M353 273h4M358 273h15M374 273h28M403 273h5M418 273h1M294 274h3M311 274h3M330 274h2M351 274h28M380 274h28M295 275h1M312 275h1M348 275h1M350 275h7M358 275h42M401 275h1M403 275h4M410 275h1M347 276h3M351 276h6M359 276h1M361 276h27M389 276h12M403 276h2M408 276h4M320 277h1M341 277h1M348 277h1M352 277h2M355 277h2M358 277h30M390 277h11M402 277h3M407 277h4M319 278h3M340 278h3M351 278h26M378 278h1M380 278h8M389 278h15M408 278h1M291 279h1M320 279h1M341 279h1M352 279h11M364 279h23M388 279h15M407 279h3M412 279h1M290 280h3M353 280h5M360 280h27M388 280h2M391 280h10M402 280h1M404 280h10M291 281h1M337 281h1M354 281h4M359 281h55M415 281h1M324 282h1M336 282h3M345 282h1M355 282h53M409 282h8M323 283h3M337 283h1M344 283h3M352 283h43M397 283h12M410 283h3M414 283h4M419 283h1M421 283h1M324 284h1M345 284h2M348 284h1M351 284h14M366 284h29M397 284h12M410 284h3M415 284h2M418 284h6M320 285h1M327 285h1M345 285h5M352 285h2M355 285h11M367 285h7M376 285h3M380 285h15M396 285h16M415 285h10M431 285h2M319 286h3M326 286h3M343 286h1M346 286h4M354 286h11M366 286h1M368 286h6M375 286h1M381 286h13M395 286h14M410 286h4M415 286h6M422 286h2M426 286h1M429 286h5M438 286h1M320 287h1M327 287h1M342 287h3M348 287h1M353 287h1M355 287h8M365 287h14M380 287h30M411 287h8M421 287h12M437 287h3M343 288h1M350 288h5M356 288h6M365 288h2M368 288h38M408 288h3M412 288h2M415 288h4M422 288h2M426 288h1M429 288h2M438 288h1M441 288h2M446 288h1M349 289h14M364 289h4M369 289h39M409 289h1M413 289h7M421 289h1M425 289h3M429 289h3M434 289h1M440 289h8M350 290h2M353 290h1M356 290h3M360 290h17M379 290h4M384 290h2M388 290h23M412 290h13M426 290h1M430 290h1M432 290h4M438 290h1M440 290h7M357 291h1M360 291h3M364 291h14M379 291h3M383 291h3M387 291h4M393 291h6M400 291h10M411 291h1M413 291h4M418 291h1M421 291h5M428 291h2M431 291h5M437 291h6M444 291h1M361 292h1M366 292h11M379 292h2M384 292h1M386 292h1M388 292h4M394 292h1M396 292h2M401 292h7M409 292h4M415 292h1M417 292h1M423 292h3M427 292h4M432 292h1M434 292h3M438 292h1M440 292h4M446 292h1M326 293h1M358 293h2M362 293h2M367 293h1M369 293h6M378 293h4M383 293h5M389 293h9M402 293h3M407 293h6M416 293h3M423 293h4M428 293h2M431 293h3M435 293h1M442 293h1M445 293h3M325 294h3M337 294h1M357 294h8M370 294h4M376 294h7M384 294h1M386 294h1M389 294h8M401 294h4M406 294h8M417 294h4M422 294h4M432 294h1M436 294h2M446 294h1M326 295h1M336 295h3M358 295h6M368 295h1M370 295h14M389 295h7M399 295h7M407 295h8M416 295h10M435 295h4M440 295h1M442 295h1M325 296h1M337 296h1M359 296h4M367 296h3M371 296h13M388 296h3M392 296h3M397 296h9M408 296h17M436 296h2M439 296h5M297 297h1M324 297h3M360 297h2M368 297h8M377 297h2M381 297h3M387 297h1M389 297h1M393 297h9M403 297h2M408 297h3M413 297h5M420 297h1M422 297h1M434 297h4M439 297h4M459 297h1M283 298h1M296 298h3M325 298h1M360 298h3M367 298h8M378 298h5M386 298h5M392 298h1M394 298h1M396 298h5M408 298h2M412 298h1M414 298h1M416 298h1M419 298h1M425 298h1M433 298h4M440 298h1M458 298h3M282 299h3M297 299h1M361 299h1M368 299h1M371 299h3M377 299h5M387 299h3M391 299h11M405 299h1M407 299h3M411 299h3M418 299h3M424 299h3M434 299h1M436 299h1M447 299h1M459 299h1M283 300h1M354 300h1M367 300h1M372 300h1M378 300h2M384 300h7M392 300h9M404 300h10M418 300h3M425 300h3M435 300h3M439 300h1M446 300h3M353 301h3M366 301h3M372 301h1M375 301h1M380 301h1M383 301h14M399 301h1M402 301h1M405 301h1M407 301h4M412 301h2M415 301h1M419 301h3M426 301h1M434 301h3M438 301h3M447 301h1M344 302h1M354 302h1M367 302h1M371 302h7M379 302h3M384 302h2M389 302h4M394 302h3M398 302h6M409 302h8M418 302h1M420 302h1M433 302h1M435 302h1M439 302h1M343 303h3M372 303h1M374 303h5M380 303h1M382 303h5M390 303h1M394 303h6M402 303h1M410 303h10M425 303h1M431 303h4M438 303h1M344 304h1M373 304h5M381 304h5M387 304h1M389 304h2M393 304h1M395 304h5M402 304h1M405 304h3M409 304h5M415 304h2M418 304h1M420 304h1M422 304h1M424 304h3M430 304h4M437 304h4M374 305h4M380 305h5M386 305h9M398 305h1M401 305h23M425 305h1M431 305h1M433 305h1M438 305h4M447 305h1M333 306h1M375 306h4M380 306h2M387 306h1M389 306h2M392 306h3M397 306h3M402 306h1M405 306h3M409 306h1M412 306h2M415 306h2M418 306h1M420 306h1M422 306h1M430 306h5M440 306h3M446 306h3M456 306h1M332 307h3M375 307h3M379 307h4M384 307h1M393 307h3M398 307h2M404 307h1M411 307h1M421 307h1M429 307h5M439 307h1M441 307h1M447 307h3M455 307h3M333 308h1M354 308h1M374 308h4M380 308h2M383 308h3M394 308h1M398 308h3M403 308h3M410 308h3M420 308h3M430 308h3M434 308h1M437 308h4M444 308h1M448 308h1M456 308h1M337 309h1M353 309h3M375 309h2M384 309h2M392 309h1M399 309h1M404 309h1M411 309h2M421 309h1M428 309h1M431 309h1M433 309h7M443 309h3M459 309h1M336 310h3M354 310h1M384 310h3M391 310h3M396 310h1M400 310h1M406 310h1M411 310h3M419 310h1M427 310h3M434 310h1M436 310h3M444 310h1M450 310h1M458 310h3M337 311h1M381 311h1M385 311h1M392 311h1M395 311h3M399 311h4M405 311h3M409 311h1M412 311h1M418 311h3M422 311h1M425 311h1M428 311h2M435 311h5M443 311h3M449 311h3M459 311h1M380 312h3M384 312h3M396 312h1M400 312h4M406 312h1M408 312h3M419 312h1M421 312h6M428 312h4M436 312h1M438 312h1M444 312h1M450 312h1M381 313h1M385 313h1M402 313h1M409 313h1M422 313h4M429 313h4M295 314h1M423 314h1M431 314h1M288 315h1M294 315h3M436 315h1M489 315h1M287 316h3M295 316h1M383 316h1M405 316h1M435 316h3M488 316h3M288 317h1M318 317h1M382 317h3M392 317h1M404 317h3M436 317h1M489 317h1M317 318h3M362 318h1M383 318h1M391 318h3M405 318h1M318 319h1M361 319h3M392 319h1M301 320h1M362 320h1M387 320h1M300 321h3M379 321h1M386 321h3M301 322h1M378 322h3M387 322h1M373 323h1M379 323h1M392 323h1M372 324h3M391 324h3M373 325h1M392 325h1M443 325h1M448 325h1M357 326h1M362 326h1M374 326h1M377 326h1M442 326h3M447 326h3M282 327h1M322 327h1M354 327h1M356 327h3M361 327h3M373 327h6M391 327h1M417 327h1M443 327h1M448 327h1M501 327h1M523 327h1M546 327h2M145 328h1M205 328h1M281 328h3M321 328h3M353 328h3M357 328h1M362 328h2M372 328h1M374 328h1M377 328h1M390 328h3M399 328h2M416 328h3M500 328h3M522 328h3M545 328h4M144 329h3M204 329h3M274 329h1M282 329h1M322 329h1M354 329h1M362 329h3M371 329h3M385 329h1M391 329h1M396 329h1M398 329h4M417 329h1M501 329h1M523 329h1M546 329h2M145 330h1M205 330h1M273 330h3M363 330h1M372 330h1M384 330h3M394 330h4M399 330h2M214 331h1M255 331h1M274 331h1M276 331h1M357 331h1M366 331h1M373 331h1M382 331h1M385 331h1M390 331h1M393 331h4M514 331h1M213 332h3M254 332h3M275 332h3M335 332h1M352 332h2M356 332h3M365 332h3M369 332h1M372 332h3M381 332h3M389 332h3M394 332h1M422 332h1M513 332h3M214 333h1M255 333h1M276 333h1M334 333h3M351 333h4M357 333h2M360 333h1M362 333h1M366 333h5M373 333h1M382 333h1M384 333h1M388 333h1M390 333h1M421 333h3M501 333h1M514 333h1M577 333h1M335 334h1M352 334h2M357 334h7M366 334h4M383 334h3M387 334h3M422 334h1M500 334h3M576 334h3M358 335h1M360 335h1M362 335h1M367 335h1M384 335h1M388 335h1M501 335h1M577 335h1" stroke="#3a86d5" stroke-width="1" fill="none" transform="translate(0,0.5)" shape-rendering="crispEdges"/>
<rect x="370" y="31" width="1" height="319" fill="#5c6216" shape-rendering="crispEdges"/>
<g style="will-change:transform">
<text x="360" y="14" text-anchor="middle" font-size="12.6" fill="#5c6216" textLength="115.5" lengthAdjust="spacingAndGlyphs">VITESSE vs PENTE</text>
<text x="49.5" y="368" text-anchor="middle" font-size="11.2" fill="#5c6216" textLength="18" lengthAdjust="spacingAndGlyphs">-40</text>
<text x="89.5" y="368" text-anchor="middle" font-size="11.2" fill="#5c6216" textLength="18" lengthAdjust="spacingAndGlyphs">-35</text>
<text x="129.5" y="368" text-anchor="middle" font-size="11.2" fill="#5c6216" textLength="18" lengthAdjust="spacingAndGlyphs">-30</text>
<text x="169.5" y="368" text-anchor="middle" font-size="11.2" fill="#5c6216" textLength="18" lengthAdjust="spacingAndGlyphs">-25</text>
<text x="209.5" y="368" text-anchor="middle" font-size="11.2" fill="#5c6216" textLength="18" lengthAdjust="spacingAndGlyphs">-20</text>
<text x="249.5" y="368" text-anchor="middle" font-size="11.2" fill="#5c6216" textLength="18" lengthAdjust="spacingAndGlyphs">-15</text>
<text x="289.5" y="368" text-anchor="middle" font-size="11.2" fill="#5c6216" textLength="18" lengthAdjust="spacingAndGlyphs">-10</text>
<text x="329.5" y="368" text-anchor="middle" font-size="11.2" fill="#5c6216" textLength="11" lengthAdjust="spacingAndGlyphs">-5</text>
<text x="370" y="368" text-anchor="middle" font-size="11.2" fill="#5c6216" textLength="7" lengthAdjust="spacingAndGlyphs">0</text>
<text x="410" y="368" text-anchor="middle" font-size="11.2" fill="#5c6216" textLength="7" lengthAdjust="spacingAndGlyphs">5</text>
<text x="450" y="368" text-anchor="middle" font-size="11.2" fill="#5c6216" textLength="14" lengthAdjust="spacingAndGlyphs">10</text>
<text x="490" y="368" text-anchor="middle" font-size="11.2" fill="#5c6216" textLength="14" lengthAdjust="spacingAndGlyphs">15</text>
<text x="530" y="368" text-anchor="middle" font-size="11.2" fill="#5c6216" textLength="14" lengthAdjust="spacingAndGlyphs">20</text>
<text x="570" y="368" text-anchor="middle" font-size="11.2" fill="#5c6216" textLength="14" lengthAdjust="spacingAndGlyphs">25</text>
<text x="610" y="368" text-anchor="middle" font-size="11.2" fill="#5c6216" textLength="14" lengthAdjust="spacingAndGlyphs">30</text>
<text x="650" y="368" text-anchor="middle" font-size="11.2" fill="#5c6216" textLength="14" lengthAdjust="spacingAndGlyphs">35</text>
<text x="690" y="368" text-anchor="middle" font-size="11.2" fill="#5c6216" textLength="14" lengthAdjust="spacingAndGlyphs">40</text>
<text x="690" y="384" text-anchor="end" font-size="11.2" fill="#5c6216" textLength="54" lengthAdjust="spacingAndGlyphs">Pente [%]</text>
<text x="362" y="34" text-anchor="end" font-size="11.2" fill="#5c6216" textLength="14" lengthAdjust="spacingAndGlyphs">53</text>
<text x="362" y="63" text-anchor="end" font-size="11.2" fill="#5c6216" textLength="14" lengthAdjust="spacingAndGlyphs">48</text>
<text x="362" y="92" text-anchor="end" font-size="11.2" fill="#5c6216" textLength="14" lengthAdjust="spacingAndGlyphs">43</text>
<text x="362" y="121" text-anchor="end" font-size="11.2" fill="#5c6216" textLength="14" lengthAdjust="spacingAndGlyphs">38</text>
<text x="362" y="150" text-anchor="end" font-size="11.2" fill="#5c6216" textLength="14" lengthAdjust="spacingAndGlyphs">33</text>
<text x="362" y="179" text-anchor="end" font-size="11.2" fill="#5c6216" textLength="14" lengthAdjust="spacingAndGlyphs">28</text>
<text x="362" y="209" text-anchor="end" font-size="11.2" fill="#5c6216" textLength="14" lengthAdjust="spacingAndGlyphs">23</text>
<text x="362" y="238" text-anchor="end" font-size="11.2" fill="#5c6216" textLength="14" lengthAdjust="spacingAndGlyphs">18</text>
<text x="362" y="267" text-anchor="end" font-size="11.2" fill="#5c6216" textLength="14" lengthAdjust="spacingAndGlyphs">13</text>
<text x="362" y="296" text-anchor="end" font-size="11.2" fill="#5c6216" textLength="7" lengthAdjust="spacingAndGlyphs">8</text>
<text x="362" y="325" text-anchor="end" font-size="11.2" fill="#5c6216" textLength="7" lengthAdjust="spacingAndGlyphs">3</text>
<text x="362" y="354" text-anchor="end" font-size="11.2" fill="#5c6216" textLength="7" lengthAdjust="spacingAndGlyphs">3</text>
<text transform="translate(341.5,190) rotate(-90)" text-anchor="middle" font-size="11.2" fill="#5c6216" textLength="79.7" lengthAdjust="spacingAndGlyphs">Vitesse [km/h]</text>
</g>
<rect x="50" y="30" width="641" height="1" fill="#d9d9dc" shape-rendering="crispEdges"/>
<rect x="50" y="350" width="641" height="1" fill="#d9d9dc" shape-rendering="crispEdges"/>
</svg>
</body></html>
